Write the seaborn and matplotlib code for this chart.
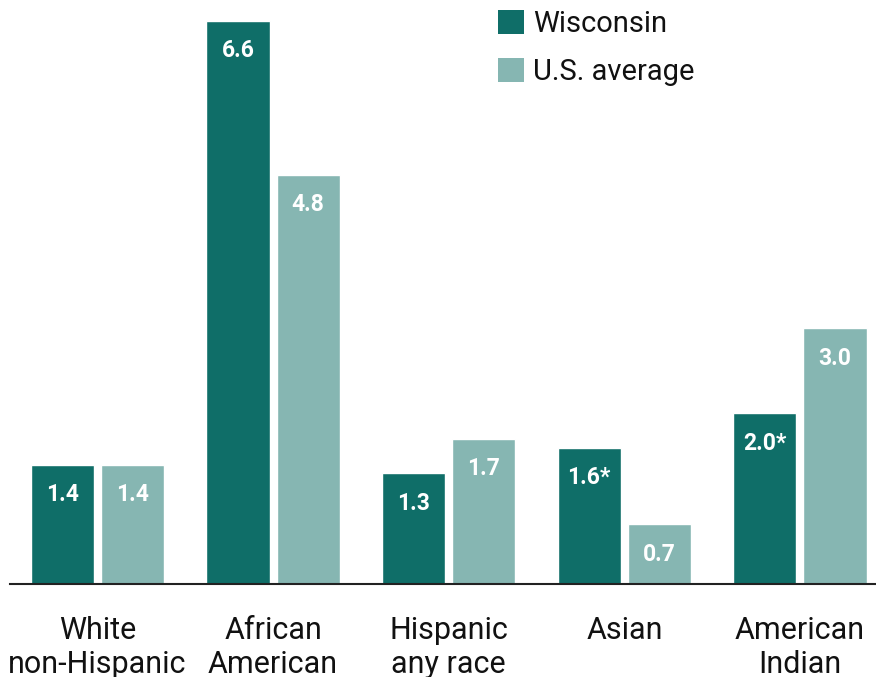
import matplotlib
matplotlib.use("Agg")
import matplotlib.pyplot as plt
from matplotlib.patches import Patch
import seaborn as sns
import pandas as pd

groups = ["White\nnon-Hispanic", "African\nAmerican", "Hispanic\nany race", "Asian", "American\nIndian"]
wisconsin = [1.4, 6.6, 1.3, 1.6, 2.0]
us_average = [1.4, 4.8, 1.7, 0.7, 3.0]
wisconsin_labels = ["1.4", "6.6", "1.3", "1.6*", "2.0*"]
us_labels = ["1.4", "4.8", "1.7", "0.7", "3.0"]
series = ["Wisconsin", "U.S. average"]

dark = "#0f6e68"
light = "#86b6b2"

df = pd.DataFrame({
    "group": groups * 2,
    "value": wisconsin + us_average,
    "series": [series[0]] * len(groups) + [series[1]] * len(groups),
    "label": wisconsin_labels + us_labels,
})

sns.set_theme(style="white")
plt.rcParams["font.family"] = ["Roboto", "DejaVu Sans"]

fig = plt.figure(figsize=(8.76, 6.77), dpi=100)
ax = fig.add_axes([10 / 876, 93 / 677, 866 / 876, 584 / 677])

sns.barplot(data=df, x="group", y="value", hue="series", order=groups,
            hue_order=series, palette=[dark, light], width=0.8, gap=0.1,
            saturation=1, legend=False, ax=ax)

for container, labels in zip(ax.containers, [wisconsin_labels, us_labels]):
    for bar, lab in zip(container, labels):
        ax.annotate(lab, (bar.get_x() + bar.get_width() / 2, bar.get_height()),
                    xytext=(0, -30), textcoords="offset pixels",
                    ha="center", va="center", color="white",
                    fontsize=16.5, fontweight="bold")

ax.set_xlim(-0.498, 4.433)
ax.set_ylim(0, 6.846)
ax.set_xlabel("")
ax.set_ylabel("")
ax.set_yticks([])
ax.tick_params(axis="x", length=0, pad=23, labelsize=22, labelcolor="#111111")
for lab in ax.get_xticklabels():
    lab.set_linespacing(1.24)
    lab.set_verticalalignment("top")
for side in ["top", "right", "left"]:
    ax.spines[side].set_visible(False)
ax.spines["bottom"].set_color("#222222")
ax.spines["bottom"].set_linewidth(1.5)

handles = [Patch(facecolor=dark, edgecolor="none"), Patch(facecolor=light, edgecolor="none")]
fig.legend(handles, series, loc="upper left", bbox_to_anchor=(492 / 876, 1.0 - 4 / 677),
           frameon=False, fontsize=21, handlelength=0.9, handleheight=0.9,
           handletextpad=0.3, labelspacing=0.68, borderaxespad=0.0,
           borderpad=0.2, labelcolor="#111111")

fig.savefig("out.png", dpi=100)
